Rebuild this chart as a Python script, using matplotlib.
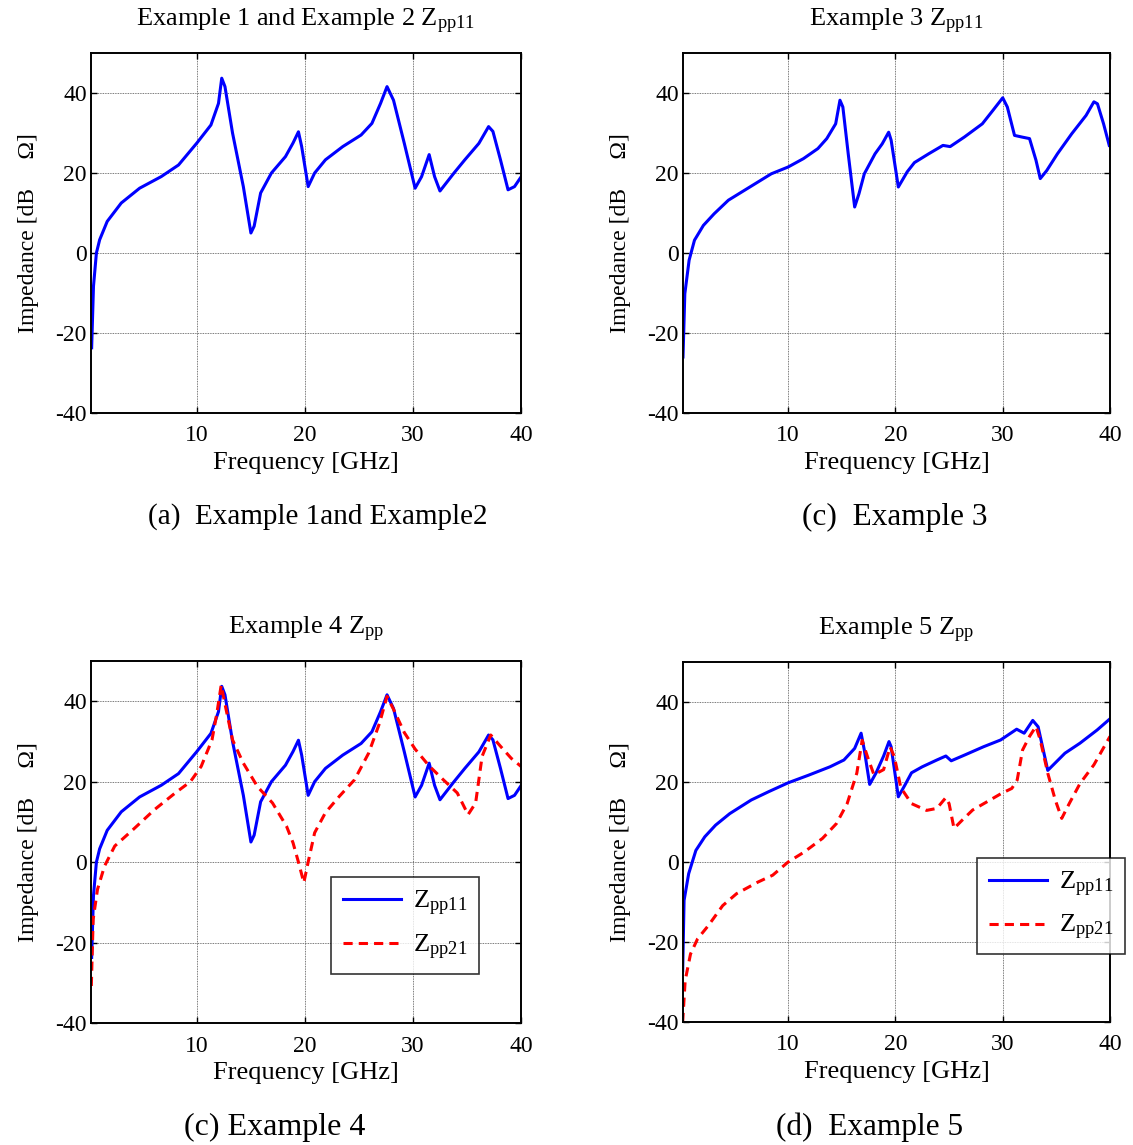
import numpy as np
import matplotlib
matplotlib.use('Agg')
import matplotlib.pyplot as plt

plt.rcParams['font.family'] = ['Liberation Serif', 'DejaVu Serif']
plt.rcParams['mathtext.fontset'] = 'custom'
plt.rcParams['mathtext.rm'] = 'Liberation Serif'
plt.rcParams['mathtext.it'] = 'Liberation Serif:italic'
plt.rcParams['axes.unicode_minus'] = False

# Example 1 / Example 2 (and Example 4) Zpp11
f_ex1 = [0.26, 0.43, 0.7, 1.0, 1.7, 3.0, 4.7, 6.7, 8.3, 10.0, 11.3, 12.0, 12.3, 12.6,
         13.3, 14.3, 15.0, 15.3, 15.9, 16.9, 18.2, 18.9, 19.4, 19.7, 20.3, 20.9, 21.9,
         23.5, 25.2, 26.2, 27.0, 27.6, 28.2, 29.2, 30.2, 30.8, 31.5, 32.0, 32.5, 33.8,
         34.8, 36.1, 37.0, 37.4, 38.1, 38.8, 39.4, 40.0]
z11_ex1 = [-23.7, -8.3, 0.0, 3.3, 7.9, 12.5, 16.2, 19.1, 22.0, 27.5, 32.0, 37.4, 43.7, 41.6,
           30.0, 16.6, 5.0, 6.7, 15.0, 20.0, 24.1, 27.5, 30.3, 26.6, 16.6, 20.0, 23.3,
           26.6, 29.5, 32.4, 37.4, 41.6, 38.2, 27.4, 16.2, 19.1, 24.6, 19.1, 15.5, 20.0,
           23.3, 27.4, 31.6, 30.4, 23.3, 15.8, 16.6, 19.0]

# Example 3 Zpp11
f_ex3 = [0.2, 0.37, 0.77, 1.27, 2.1, 3.1, 4.43, 6.43, 8.43, 10.0, 11.43, 12.77, 13.6,
         14.43, 14.83, 15.1, 15.6, 16.2, 16.6, 17.1, 18.1, 18.77, 19.37, 19.6, 20.27,
         21.1, 21.77, 23.1, 24.43, 25.1, 26.43, 28.1, 29.1, 30.0, 30.43, 31.1, 31.77,
         32.5, 33.1, 33.5, 34.1, 35.1, 36.43, 37.77, 38.5, 38.83, 39.4, 39.93]
z11_ex3 = [-26.0, -10.2, -1.8, 3.2, 6.9, 9.8, 13.2, 16.5, 19.8, 21.5, 23.6, 26.1, 28.6,
           32.3, 38.2, 36.5, 24.8, 11.5, 14.8, 19.8, 24.8, 27.3, 30.2, 28.2, 16.5,
           20.3, 22.6, 24.8, 26.9, 26.6, 29.0, 32.3, 35.7, 38.8, 36.5, 29.4, 29.0,
           28.6, 23.2, 18.6, 20.6, 24.8, 29.8, 34.4, 37.8, 37.3, 32.3, 26.9]

# Example 4 Zpp21
f_ex4_21 = [0.23, 0.4, 0.8, 1.45, 2.4, 4.1, 6.1, 8.0, 9.4, 10.4, 11.4, 11.85, 12.25,
            12.7, 13.3, 14.3, 15.6, 17.0, 18.3, 18.9, 19.4, 19.9, 20.3, 20.9, 21.9,
            23.2, 24.6, 25.9, 26.9, 27.6, 28.2, 29.2, 30.2, 31.5, 32.8, 34.1, 35.1,
            35.8, 36.4, 37.2, 38.1, 39.1, 40.0]
z21_ex4 = [-30.8, -14.2, -6.8, -1.0, 4.0, 8.1, 13.1, 17.2, 20.0, 23.8, 30.4, 37.0, 44.0,
           38.0, 30.4, 24.6, 18.8, 14.7, 8.9, 4.8, 0.0, -5.1, 0.0, 7.3, 12.3,
           16.4, 20.5, 27.1, 34.5, 41.2, 38.0, 32.2, 28.1, 23.9, 20.5, 17.2, 11.8,
           14.7, 26.3, 31.6, 28.8, 25.8, 23.8]

# Example 5 Zpp11 and Zpp21
f_ex5_11 = [0.17, 0.3, 0.73, 1.4, 2.23, 3.23, 4.56, 6.56, 8.2, 10.0, 11.9, 13.9, 15.2,
            16.2, 16.8, 17.1, 17.6, 18.2, 18.9, 19.4, 19.6, 20.27, 20.9, 21.5, 22.5,
            23.86, 24.7, 25.2, 26.5, 28.2, 29.8, 31.3, 32.0, 32.8, 33.3, 34.2, 35.8,
            37.2, 38.8, 40.0]
z11_ex5 = [-27.2, -9.6, -2.9, 2.9, 6.3, 9.2, 12.1, 15.5, 17.6, 19.8, 21.7, 23.8, 25.5,
           28.4, 32.2, 28.0, 19.4, 22.3, 26.5, 30.1, 28.8, 16.3, 19.3, 22.3, 23.8,
           25.5, 26.5, 25.3, 26.8, 28.8, 30.5, 33.2, 32.2, 35.4, 33.8, 22.9, 27.2,
           29.7, 33.0, 35.8]
f_ex5_21 = [0.17, 0.4, 0.9, 1.56, 2.56, 3.9, 5.2, 7.2, 8.56, 10.0, 11.5, 13.2, 14.5,
            15.5, 16.4, 16.9, 17.4, 18.0, 18.9, 19.5, 19.9, 20.5, 21.5, 22.9, 23.86,
            24.7, 25.0, 25.46, 26.2, 27.2, 28.5, 29.85, 30.85, 31.35, 31.85, 32.5,
            33.1, 33.5, 34.2, 34.9, 35.5, 36.2, 37.2, 38.5, 40.0]
z21_ex5 = [-40.0, -29.7, -23.0, -19.2, -15.9, -10.9, -7.9, -5.0, -3.3, 0.0, 2.5, 5.9, 9.6,
           14.6, 22.2, 30.4, 26.3, 21.8, 23.1, 28.8, 26.3, 18.6, 14.6, 12.9, 13.4,
           16.1, 14.6, 8.4, 10.4, 13.0, 15.0, 17.1, 18.4, 20.5, 28.0, 31.4,
           33.9, 30.5, 22.2, 15.5, 10.9, 14.6, 19.6, 24.3, 31.4]

titles = ['Example 1 and Example 2 Z$_{\\mathrm{pp11}}$', 'Example 3 Z$_{\\mathrm{pp11}}$',
          'Example 4 Z$_{\\mathrm{pp}}$', 'Example 5 Z$_{\\mathrm{pp}}$']
captions = ['(a)  Example 1and Example2', '(c)  Example 3', '(c) Example 4', '(d)  Example 5']
xticks = [10, 20, 30, 40]
yticks = [-40, -20, 0, 20, 40]

W, H = 1133, 1145
fig = plt.figure(figsize=(W / 100, H / 100), dpi=100)

# axes boxes in pixels: left, top, right, bottom
boxes = [(91, 53, 521, 413), (683, 53, 1110, 413),
         (91, 661, 521, 1023), (683, 662, 1110, 1022)]
axes = []
for (l, t, r, b) in boxes:
    ax = fig.add_axes([l / W, 1 - b / H, (r - l) / W, (b - t) / H])
    axes.append(ax)

axes[0].plot(f_ex1, z11_ex1, color='#0000FF', lw=2.2)
axes[1].plot(f_ex3, z11_ex3, color='#0000FF', lw=2.2)
axes[2].plot(f_ex1, z11_ex1, color='#0000FF', lw=2.2, label='Z$_{\\mathrm{pp11}}$')
axes[2].plot(f_ex4_21, z21_ex4, color='#FF0000', lw=2.2, ls=(0, (3, 2)), label='Z$_{\\mathrm{pp21}}$')
axes[3].plot(f_ex5_11, z11_ex5, color='#0000FF', lw=2.2, label='Z$_{\\mathrm{pp11}}$')
axes[3].plot(f_ex5_21, z21_ex5, color='#FF0000', lw=2.2, ls=(0, (3, 2)), label='Z$_{\\mathrm{pp21}}$')

for i, ax in enumerate(axes):
    ax.set_xlim(0.2, 40)
    ax.set_ylim(-40, 50)
    ax.set_xticks(xticks)
    ax.set_yticks(yticks)
    ax.tick_params(direction='in', top=True, right=True, labelsize=17, length=4, width=1)
    ax.tick_params(axis='x', pad=9)
    ax.tick_params(axis='y', pad=3)
    ax.grid(True, ls=(0, (1, 1)), color='0.3', lw=0.6)
    for s in ax.spines.values():
        s.set_linewidth(1.4)
    ax.set_title(titles[i], fontsize=19, pad=19)
    ax.set_xlabel('Frequency [GHz]', fontsize=19, labelpad=4)
    ax.set_ylabel('Impedance [dB     \u03a9]', fontsize=17, labelpad=12)

leg_pos = [(0.558, 0.403), (0.689, 0.456)]
for ax, pos in zip(axes[2:], leg_pos):
    lg = ax.legend(loc='upper left', bbox_to_anchor=pos, fontsize=19, frameon=True,
                   fancybox=False, handlelength=2.2, handletextpad=0.45, borderpad=0.45,
                   labelspacing=0.55, borderaxespad=0)
    lg.get_frame().set_edgecolor('black')
    lg.get_frame().set_linewidth(1.2)

cap_pos = [(318, 517), (895, 517), (275, 1127), (870, 1127)]
cap_size = [21, 22.5, 23, 22.5]
for (x, y), c, fs in zip(cap_pos, captions, cap_size):
    fig.text(x / W, 1 - y / H, c, ha='center', va='center', fontsize=fs)

fig.savefig('out.png', dpi=100)
